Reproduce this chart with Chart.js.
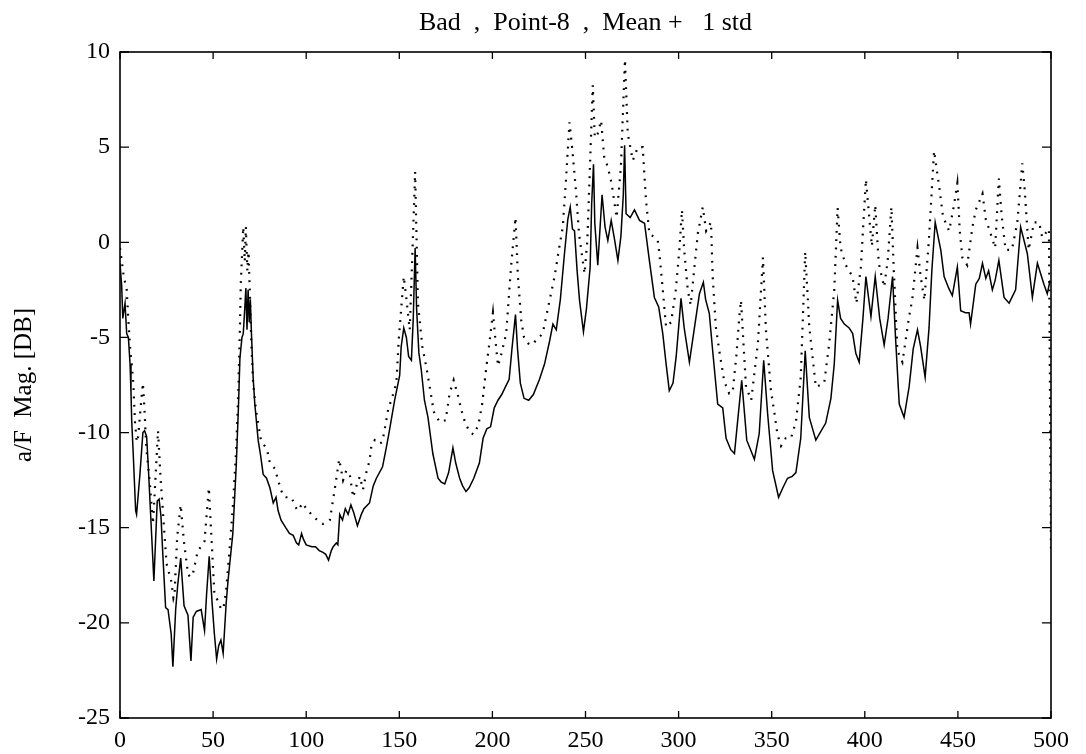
<!DOCTYPE html>
<html>
<head>
<meta charset="utf-8">
<script src="https://cdn.jsdelivr.net/npm/chart.js@4.4.1/dist/chart.umd.min.js"></script>
<style>
html,body{margin:0;padding:0;background:#fff;}
#wrap{width:1086px;height:754px;}
</style>
</head>
<body>
<div id="wrap"><canvas id="c" width="1086" height="754"></canvas></div>
<script>
// ---- data ----
const chartTitle = "Bad  ,  Point-8  ,  Mean +   1 std";
const yAxisTitle = "a/F  Mag. [DB]";
const xTickValues = [0, 50, 100, 150, 200, 250, 300, 350, 400, 450, 500];
const yTickValues = [-25, -20, -15, -10, -5, 0, 5, 10];

// mean (solid line)
const meanFreq = [0,0.9,1.5,2.7,3.6,4.5,5.4,5.9,6.3,7.1,8.4,8.9,10.7,12.3,13.2,14.3,15.2,16.1,16.8,18.2,20.0,21.0,22.0,23.0,24.5,25.8,27.5,28.4,29.9,31.0,32.6,34.4,36.5,38.1,39.3,41.0,43.6,45.4,46.5,47.9,49.5,50.7,51.9,53.0,54.2,55.4,57.0,58.0,60.6,62.4,63.6,64.4,65.5,66.2,67.0,67.6,68.2,68.8,69.4,70.0,70.6,71.5,72.4,74.2,75.5,76.9,78.7,80.5,82.3,83.8,84.9,86.5,89.0,91.0,93.0,94.8,96.0,97.5,98.5,100.0,103.0,105.0,107.0,109.0,110.5,112.0,113.5,114.5,116.2,117.0,118.0,119.5,121.0,122.5,124.0,125.5,127.5,129.6,131.0,134.0,136.0,137.7,141.0,143.0,144.5,147.5,150.2,151.0,152.4,153.8,155.0,156.5,157.5,158.5,159.3,160.5,161.8,163.5,165.4,168.0,170.8,172.5,174.4,176.5,178.8,180.3,182.4,184.0,185.8,187.5,190.0,193.0,195.0,197.0,199.0,201.0,203.0,205.0,207.0,209.0,210.5,212.4,213.5,215.0,217.0,219.5,222.0,225.3,228.0,230.7,232.5,234.3,236.5,238.7,240.5,241.8,243.0,244.1,245.5,246.8,248.9,250.5,252.5,253.3,254.3,255.0,256.6,258.9,260.5,262.0,263.8,265.5,267.4,269.0,270.3,271.0,271.8,274.0,276.3,279.0,281.7,284.3,287.0,289.3,291.5,293.3,295.0,297.0,298.7,300.0,301.3,303.0,305.8,308.5,311.2,313.3,314.5,316.5,318.3,321.0,323.7,325.5,328.0,330.0,331.7,333.9,336.6,340.7,343.3,345.7,347.8,350.5,353.7,356.0,358.5,361.0,363.0,365.6,368.0,370.2,373.7,376.0,379.0,381.8,383.6,385.4,387.0,389.0,391.6,393.5,395.2,397.0,399.0,400.6,403.3,405.6,408.0,410.4,412.5,414.9,416.5,418.5,421.1,423.8,426.0,428.3,430.0,432.4,434.5,436.0,437.8,440.8,442.6,445.0,447.0,449.7,451.5,454.0,456.0,456.8,459.6,461.5,463.2,465.0,466.5,468.5,470.0,472.0,474.8,477.5,481.0,483.7,487.3,490.0,492.7,496.2,498.0,499.5];
const meanDb = [-1.1,-2.3,-4.0,-3.2,-4.8,-5.0,-6.4,-7.9,-9.4,-11.1,-14.1,-14.3,-12.2,-10.0,-9.9,-10.2,-11.8,-13.6,-15.0,-17.8,-13.6,-13.5,-14.4,-16.4,-19.2,-19.3,-20.6,-22.3,-19.3,-18.0,-16.6,-19.1,-19.6,-22.0,-19.7,-19.4,-19.3,-20.4,-18.5,-16.5,-19.0,-20.6,-21.9,-21.2,-20.9,-21.6,-19.0,-17.8,-15.3,-11.8,-8.7,-6.1,-5.0,-4.8,-3.5,-2.4,-4.6,-2.5,-4.2,-3.0,-4.8,-7.1,-8.5,-10.4,-11.2,-12.2,-12.4,-12.9,-13.7,-13.4,-14.1,-14.6,-15.0,-15.3,-15.4,-15.8,-15.9,-15.3,-15.6,-15.9,-16.0,-16.0,-16.2,-16.3,-16.4,-16.7,-16.2,-16.0,-15.8,-15.9,-14.3,-14.6,-14.0,-14.3,-13.8,-14.2,-14.9,-14.3,-14.0,-13.7,-12.8,-12.4,-11.8,-10.8,-10.0,-8.3,-7.0,-5.5,-4.5,-5.0,-6.0,-6.2,-4.0,-0.3,-3.5,-5.8,-6.7,-8.3,-9.2,-11.1,-12.4,-12.6,-12.7,-12.1,-10.8,-11.6,-12.4,-12.8,-13.1,-12.9,-12.4,-11.6,-10.3,-9.8,-9.7,-8.7,-8.3,-8.0,-7.6,-7.2,-5.6,-3.8,-5.6,-7.4,-8.2,-8.3,-8.0,-7.2,-6.4,-5.2,-4.3,-4.6,-3.0,-0.6,1.2,1.85,0.7,0.6,-1.5,-3.05,-4.7,-3.5,-1.3,2.0,4.1,1.0,-1.2,2.5,0.8,0.1,1.15,0.2,-0.95,0.3,2.5,5.1,1.5,1.3,1.7,1.15,1.0,-0.95,-2.9,-3.4,-4.8,-6.4,-7.8,-7.4,-6.0,-4.5,-2.95,-4.5,-6.3,-4.5,-2.7,-2.1,-3.0,-3.75,-5.7,-8.5,-8.7,-10.3,-10.9,-11.1,-9.4,-7.25,-10.4,-11.4,-10.05,-6.2,-9.0,-12.0,-13.4,-12.9,-12.4,-12.3,-12.1,-10.3,-5.7,-9.2,-10.4,-10.0,-9.5,-8.2,-6.4,-3.05,-4.0,-4.3,-4.5,-4.8,-5.85,-6.3,-4.0,-1.8,-3.9,-1.8,-4.0,-5.4,-4.0,-1.8,-5.0,-8.5,-9.2,-7.6,-5.6,-4.6,-5.5,-7.1,-4.5,-1.5,1.05,-0.4,-1.8,-2.4,-2.8,-1.3,-3.6,-3.7,-3.7,-4.3,-2.2,-1.9,-1.1,-1.9,-1.5,-2.5,-2.0,-0.95,-2.9,-3.2,-2.5,0.8,-0.6,-2.9,-1.1,-2.2,-2.7,-2.0];

// mean + 1 std (dotted line)
const stdFreq = [0,0.9,2.0,3.6,4.5,5.4,6.3,7.2,8.0,9.0,9.8,10.6,12.3,13.0,14.1,15.9,17.7,19.0,20.4,21.8,23.0,25.0,27.5,28.7,29.3,30.7,32.6,34.3,36.5,37.6,39.2,41.8,43.5,45.4,47.7,49.0,50.7,52.9,54.3,55.6,57.0,58.8,60.6,62.4,63.5,64.4,64.9,66.2,67.0,67.6,68.4,69.0,69.7,70.6,71.5,73.0,74.2,75.5,77.0,79.0,80.5,83.2,85.5,87.5,89.0,92.0,94.8,95.7,98.0,100.1,103.7,106.0,109.0,111.0,112.7,115.3,117.7,119.8,121.5,123.4,125.2,127.0,128.8,130.5,132.5,134.0,135.0,136.8,139.0,140.9,142.2,144.0,146.6,148.4,149.8,151.1,152.4,153.8,155.6,157.4,158.5,160.0,162.4,164.5,166.0,168.5,171.7,174.9,177.0,179.2,181.5,183.3,185.4,188.0,190.0,192.5,194.5,196.7,198.5,200.3,201.5,203.0,205.0,207.4,210.0,212.4,213.7,215.5,217.0,219.0,221.0,223.5,227.0,230.7,233.4,235.5,237.8,239.6,241.4,243.0,245.0,246.5,249.5,251.0,253.0,253.9,255.0,256.5,258.4,260.0,262.0,264.0,266.7,269.0,271.2,272.7,275.4,278.1,280.7,282.5,284.3,286.5,288.8,289.7,291.5,293.3,296.0,298.5,300.4,301.8,303.0,304.9,306.5,308.5,310.3,313.0,314.8,317.4,318.3,320.0,322.0,324.5,327.2,329.0,331.0,332.6,333.5,336.2,339.0,342.6,345.3,346.9,349.6,351.5,353.1,355.0,357.5,360.3,363.0,365.6,368.0,370.2,373.7,378.2,380.9,383.6,385.4,387.0,389.8,393.4,395.5,397.9,400.6,402.4,403.8,405.6,407.5,410.4,412.3,414.3,415.5,417.5,420.2,423.8,425.5,428.3,430.0,432.0,434.5,437.2,440.0,442.0,445.3,448.0,449.7,451.0,452.4,455.0,457.8,459.6,463.2,465.0,467.6,470.0,472.0,473.5,475.6,479.0,481.9,484.6,486.0,488.0,490.9,493.6,495.3,498.9,500.0];
const stdDb = [-0.3,-0.95,-1.8,-2.5,-4.1,-5.5,-6.4,-7.5,-9.4,-10.5,-10.2,-9.2,-7.4,-8.5,-10.8,-12.5,-14.8,-12.5,-9.9,-12.4,-14.1,-16.9,-17.8,-18.7,-18.5,-15.5,-13.8,-15.7,-17.4,-17.6,-17.4,-16.2,-16.0,-15.7,-12.9,-15.3,-18.5,-18.9,-19.3,-19.2,-18.3,-16.2,-13.9,-10.9,-8.0,-4.5,-2.1,0.8,-1.0,0.8,-1.5,-0.5,-2.5,-5.5,-7.4,-8.8,-9.5,-10.3,-10.6,-10.9,-11.6,-11.9,-12.7,-13.3,-13.4,-13.4,-14.0,-14.1,-13.7,-14.0,-14.4,-14.6,-14.8,-14.7,-14.6,-13.0,-11.4,-12.5,-12.0,-12.2,-13.4,-12.8,-12.3,-13.0,-12.0,-11.5,-10.7,-10.4,-10.6,-10.5,-9.8,-8.8,-8.0,-7.4,-5.0,-3.4,-1.8,-2.95,-4.6,0.45,3.7,-3.2,-5.5,-6.55,-7.4,-8.9,-9.45,-9.35,-7.95,-7.25,-8.05,-8.8,-9.5,-10.0,-10.1,-9.6,-8.5,-6.6,-5.2,-3.7,-5.0,-6.5,-5.8,-4.8,-1.3,1.3,-1.8,-4.1,-5.0,-5.3,-5.4,-5.15,-4.8,-3.05,-1.8,-0.5,0.8,3.4,6.3,4.8,2.55,0.45,-1.65,0.1,5.7,8.25,5.5,5.7,6.4,4.5,3.95,3.1,1.3,3.95,9.6,5.7,4.3,5.0,5.0,2.2,0.45,0.3,0.1,-0.6,-2.5,-4.45,-4.2,-2.5,-0.4,1.7,-0.4,-2.5,-3.3,-1.3,0.45,1.85,0.6,1.05,-1.8,-4.45,-5.8,-7.3,-7.95,-7.9,-6.0,-3.9,-3.05,-7.6,-8.3,-5.3,-0.8,-4.6,-7.8,-9.0,-10.1,-10.7,-10.3,-10.3,-9.45,-7.1,-0.5,-4.45,-7.6,-7.4,-5.3,-2.5,1.8,-0.3,-1.2,-1.8,-3.2,-1.3,3.3,1.3,-0.2,1.95,-1.1,-2.35,-0.95,1.85,-1.3,-5.7,-6.3,-3.9,-3.0,-0.3,-1.8,-3.05,0.25,4.8,2.9,1.35,0.6,2.0,3.1,0.6,-0.8,-1.2,0.8,1.7,2.55,1.2,0.45,-0.3,3.35,1.4,-0.4,-0.4,1.05,4.15,2.6,-0.4,1.05,1.05,0.25,0.7,-16.2];

// ---- build chart ----
const toPoints = (xs, ys) => xs.map((x, i) => ({x: x, y: ys[i]}));

const FONT = "'Liberation Serif', 'Times New Roman', Times, serif";
Chart.defaults.font.family = FONT;
Chart.defaults.color = '#000';

const frameTicks = {
  id: 'frameTicks',
  afterDatasetsDraw(chart) {
    const {ctx, chartArea: a, scales: {x, y}} = chart;
    ctx.save();
    ctx.strokeStyle = '#000';
    ctx.lineWidth = 1.6;
    ctx.strokeRect(a.left, a.top, a.right - a.left, a.bottom - a.top);
    ctx.lineWidth = 1.3;
    ctx.beginPath();
    xTickValues.forEach(v => {
      const px = x.getPixelForValue(v);
      ctx.moveTo(px, a.bottom); ctx.lineTo(px, a.bottom - 7);
      ctx.moveTo(px, a.top); ctx.lineTo(px, a.top + 7);
    });
    yTickValues.forEach(v => {
      const py = y.getPixelForValue(v);
      ctx.moveTo(a.left, py); ctx.lineTo(a.left + 9, py);
      ctx.moveTo(a.right, py); ctx.lineTo(a.right - 9, py);
    });
    ctx.stroke();
    ctx.restore();
  }
};

new Chart(document.getElementById('c'), {
  type: 'scatter',
  data: {
    datasets: [
      {
        label: 'Mean',
        data: toPoints(meanFreq, meanDb),
        showLine: true,
        borderColor: '#000',
        borderWidth: 1.5,
        pointRadius: 0,
        tension: 0
      },
      {
        label: 'Mean + 1 std',
        data: toPoints(stdFreq, stdDb),
        showLine: true,
        borderColor: '#000',
        borderWidth: 2.2,
        borderDash: [1.8, 6.5],
        pointRadius: 0,
        tension: 0
      }
    ]
  },
  options: {
    responsive: false,
    animation: false,
    devicePixelRatio: 1,
    layout: {padding: {left: 0, right: 35, top: 0, bottom: 0}},
    plugins: {
      legend: {display: false},
      tooltip: {enabled: false},
      title: {
        display: true,
        fullSize: false,
        text: chartTitle,
        color: '#000',
        font: {family: FONT, size: 26, weight: 'normal', lineHeight: 1.2},
        padding: {top: 8, bottom: 12.8}
      }
    },
    scales: {
      x: {
        type: 'linear',
        min: 0, max: 500,
        afterBuildTicks: s => { s.ticks = xTickValues.map(v => ({value: v})); },
        afterFit: s => { s.height = 36; },
        grid: {display: false, drawTicks: false},
        border: {display: false},
        ticks: {padding: 8, color: '#000', font: {family: FONT, size: 24}, maxRotation: 0, autoSkip: false}
      },
      y: {
        type: 'linear',
        min: -25, max: 10,
        afterBuildTicks: s => { s.ticks = yTickValues.map(v => ({value: v})); },
        afterFit: s => { s.width = 120; },
        grid: {display: false, drawTicks: false},
        border: {display: false},
        ticks: {padding: 10, color: '#000', font: {family: FONT, size: 24}, autoSkip: false},
        title: {
          display: true,
          text: yAxisTitle,
          color: '#000',
          font: {family: FONT, size: 25, lineHeight: 1.2},
          padding: {top: 9, bottom: 0}
        }
      }
    }
  },
  plugins: [frameTicks]
});
</script>
</body>
</html>
